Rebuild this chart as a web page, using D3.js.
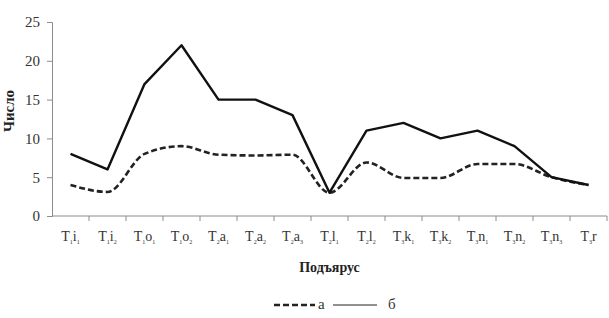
<!DOCTYPE html>
<html>
<head>
<meta charset="utf-8">
<script src="https://cdn.jsdelivr.net/npm/d3@7"></script>
<style>
  body { margin: 0; background: #fff; }
</style>
</head>
<body>
<div id="chart"></div>
<script>
// subzone labels: [stage index, letter, sub index]
const categories = [
  ["1", "i", "1"], ["1", "i", "2"], ["1", "o", "1"], ["1", "o", "2"],
  ["2", "a", "1"], ["2", "a", "2"], ["2", "a", "3"], ["2", "l", "1"],
  ["2", "l", "2"], ["3", "k", "1"], ["3", "k", "2"], ["3", "n", "1"],
  ["3", "n", "2"], ["3", "n", "3"], ["3", "r", ""]
];
const seriesA = [4, 3.1, 8, 9, 7.9, 7.8, 7.9, 3, 6.9, 4.9, 4.9, 6.7, 6.7, 5, 4];
const seriesB = [8, 6, 17, 22, 15, 15, 13, 3, 11, 12, 10, 11, 9, 5, 4];
const yTicks = [0, 5, 10, 15, 20, 25];

const FONT = "Liberation Serif";
const width = 609, height = 318;
const margin = {left: 52, right: 2, top: 22, bottom: 102};
const w = width - margin.left - margin.right,
      h = height - margin.top - margin.bottom;
const axisColor = "#8c8c8c";

const svg = d3.select("#chart").append("svg")
    .attr("width", width)
    .attr("height", height)
    .attr("font-family", FONT);
const g = svg.append("g")
    .attr("transform", `translate(${margin.left},${margin.top})`);

const x = d3.scaleBand().domain(d3.range(categories.length)).range([0, w]);
const y = d3.scaleLinear().domain([0, 25]).range([h, 0]);

// y axis
const axisY = g.append("g")
    .call(d3.axisLeft(y).tickValues(yTicks).tickSize(5).tickPadding(7))
    .attr("font-family", FONT);
axisY.select(".domain").attr("stroke", axisColor);
axisY.selectAll(".tick line").attr("stroke", axisColor);
axisY.selectAll(".tick text")
    .attr("font-family", FONT)
    .attr("font-size", 15)
    .attr("fill", "#333");

// x axis: ticks sit between categories
const axisX = g.append("g").attr("transform", `translate(0,${h})`);
axisX.append("line")
    .attr("x1", 0).attr("x2", w)
    .attr("stroke", axisColor);
axisX.selectAll(".xtick")
    .data(d3.range(1, categories.length + 1))
    .join("line")
    .attr("class", "xtick")
    .attr("x1", d => x.step() * d).attr("x2", d => x.step() * d)
    .attr("y1", 0).attr("y2", 5)
    .attr("stroke", axisColor);

const labels = axisX.selectAll(".xlabel")
    .data(categories)
    .join("text")
    .attr("class", "xlabel")
    .attr("x", (d, i) => x(i) + x.bandwidth() / 2)
    .attr("y", 25)
    .attr("text-anchor", "middle")
    .attr("font-family", FONT)
    .attr("font-size", 14)
    .attr("fill", "#333");
labels.append("tspan").text("T");
labels.append("tspan").attr("font-size", 6).attr("dy", 3).text(d => d[0]);
labels.append("tspan").attr("dy", -3).text(d => d[1]);
labels.append("tspan").attr("font-size", 6).attr("dy", 3).text(d => d[2]);

// axis titles
g.append("text")
    .attr("x", w / 2)
    .attr("y", h + 56)
    .attr("text-anchor", "middle")
    .attr("font-family", FONT)
    .attr("font-size", 14)
    .attr("font-weight", "bold")
    .attr("fill", "#222")
    .text("Подъярус");

g.append("text")
    .attr("transform", `translate(${-38},${h / 2 - 8}) rotate(-90)`)
    .attr("text-anchor", "middle")
    .attr("font-family", FONT)
    .attr("font-size", 15)
    .attr("font-weight", "bold")
    .attr("fill", "#222")
    .text("Число");

// lines
const cx = i => x(i) + x.bandwidth() / 2;
const lineA = d3.line().x((d, i) => cx(i)).y(d => y(d)).curve(d3.curveMonotoneX);
const lineB = d3.line().x((d, i) => cx(i)).y(d => y(d));

g.append("path")
    .datum(seriesA)
    .attr("d", lineA)
    .attr("fill", "none")
    .attr("stroke", "#222")
    .attr("stroke-width", 2.6)
    .attr("stroke-dasharray", "6,3");

g.append("path")
    .datum(seriesB)
    .attr("d", lineB)
    .attr("fill", "none")
    .attr("stroke", "#111")
    .attr("stroke-width", 2.4)
    .attr("stroke-linejoin", "round");

// legend
const legend = svg.append("g").attr("transform", "translate(0,305)");
legend.append("line")
    .attr("x1", 274).attr("x2", 315)
    .attr("stroke", "#222").attr("stroke-width", 2.6)
    .attr("stroke-dasharray", "6,3");
legend.append("text")
    .attr("x", 318).attr("y", 4)
    .attr("font-family", FONT)
    .attr("font-size", 15).attr("fill", "#333")
    .text("а");
legend.append("line")
    .attr("x1", 333).attr("x2", 377)
    .attr("stroke", "#222").attr("stroke-width", 1);
legend.append("text")
    .attr("x", 388).attr("y", 4)
    .attr("font-family", FONT)
    .attr("font-size", 15).attr("fill", "#333")
    .text("б");
</script>
</body>
</html>
